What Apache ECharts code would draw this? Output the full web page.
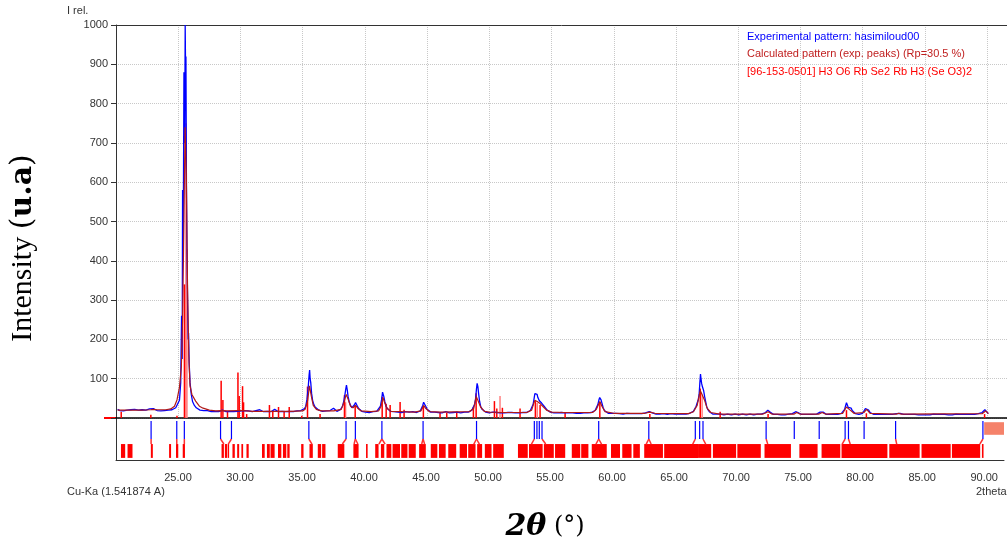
<!DOCTYPE html>
<html>
<head>
    <meta charset="utf-8">
    <title>XRD hasimiloud00</title>
    <script src="https://cdn.jsdelivr.net/npm/echarts@6/dist/echarts.min.js"></script>
    <style>
        html, body { margin: 0; padding: 0; background: #fff; }
        #main { width: 1007px; height: 549px; }
    </style>
</head>
<body>
<div id="main"></div>
<script>
    // experimental pattern [2theta, I rel.]
    var expPattern = [
        [20.13,22],[20.3,19],[20.45,21],[20.6,18],[20.75,22],[20.9,20],[21.05,17],[21.2,21],[21.35,19],[21.5,22],[21.65,18],[21.8,20],
        [21.95,19],[22.1,21],[22.25,18],[22.4,20],[22.55,21],[22.7,23],[22.85,26],[23.0,24],[23.15,21],[23.3,19],[23.45,21],[23.6,18],
        [23.75,20],[23.9,19],[24.05,21],[24.2,20],[24.35,22],[24.5,21],[24.65,24],[24.8,26],[24.95,30],[25.1,45],[25.2,90],[25.27,260],
        [25.32,150],[25.35,580],[25.4,420],[25.46,880],[25.52,700],[25.56,1000],[25.6,850],[25.62,920],[25.66,600],[25.7,440],[25.75,300],
        [25.8,200],[25.83,216],[25.88,140],[25.95,90],[26.05,60],[26.15,42],[26.3,32],[26.45,26],[26.6,22],[26.75,20],[26.9,18],[27.05,19],
        [27.2,17],[27.35,19],[27.5,18],[27.65,16],[27.8,18],[27.95,17],[28.1,19],[28.25,16],[28.4,18],[28.55,20],[28.7,17],[28.85,16],
        [29.0,18],[29.15,17],[29.3,19],[29.45,16],[29.6,18],[29.75,17],[29.9,16],[30.05,18],[30.2,17],[30.35,19],[30.5,16],[30.65,18],
        [30.8,17],[30.95,16],[31.1,18],[31.25,19],[31.4,17],[31.55,21],[31.7,17],[31.85,16],[32.0,18],[32.15,17],[32.3,19],[32.45,16],
        [32.6,18],[32.75,22],[32.9,17],[33.05,16],[33.2,18],[33.35,17],[33.5,19],[33.65,16],[33.8,18],[33.95,17],[34.1,18],[34.25,16],
        [34.4,17],[34.55,18],[34.7,17],[34.85,19],[35.0,20],[35.15,24],[35.25,30],[35.35,48],[35.45,80],[35.52,110],[35.56,122],[35.6,100],
        [35.65,90],[35.72,62],[35.8,45],[35.9,34],[36.0,28],[36.15,23],[36.3,20],[36.45,18],[36.6,17],[36.75,16],[36.9,18],[37.05,17],
        [37.2,19],[37.35,22],[37.48,25],[37.6,20],[37.75,17],[37.9,18],[38.05,22],[38.2,30],[38.3,42],[38.4,60],[38.47,75],[38.52,84],
        [38.58,72],[38.65,55],[38.75,40],[38.85,32],[38.95,26],[39.05,28],[39.15,33],[39.25,39],[39.32,36],[39.4,30],[39.5,24],[39.6,20],
        [39.75,17],[39.9,16],[40.05,15],[40.2,16],[40.35,14],[40.5,15],[40.65,16],[40.8,15],[40.95,17],[41.1,20],[41.25,30],[41.35,48],
        [41.42,66],[41.46,70],[41.52,55],[41.6,42],[41.7,30],[41.8,24],[41.9,20],[42.05,17],[42.2,15],[42.35,16],[42.5,14],[42.65,15],
        [42.8,16],[42.95,14],[43.1,15],[43.25,16],[43.4,14],[43.55,15],[43.7,14],[43.85,16],[44.0,15],[44.15,14],[44.3,16],[44.45,18],
        [44.55,22],[44.65,32],[44.72,40],[44.78,43],[44.85,35],[44.92,28],[45.0,22],[45.15,17],[45.3,15],[45.45,14],[45.6,15],[45.75,13],
        [45.9,14],[46.05,15],[46.2,13],[46.35,14],[46.5,16],[46.65,14],[46.8,13],[46.95,15],[47.1,14],[47.25,13],[47.4,15],[47.55,14],
        [47.7,13],[47.85,14],[48.0,15],[48.15,14],[48.3,15],[48.45,17],[48.6,20],[48.72,25],[48.82,35],[48.9,50],[48.97,75],[49.02,88],
        [49.08,80],[49.14,62],[49.22,42],[49.3,30],[49.42,22],[49.55,17],[49.7,15],[49.85,14],[50.0,13],[50.15,14],[50.3,15],[50.45,13],
        [50.6,14],[50.75,15],[50.9,13],[51.05,14],[51.2,13],[51.35,15],[51.5,14],[51.65,13],[51.8,14],[51.95,15],[52.1,13],[52.25,14],
        [52.4,13],[52.55,15],[52.7,14],[52.85,13],[53.0,14],[53.15,16],[53.3,19],[53.42,24],[53.52,35],[53.6,50],[53.66,62],[53.72,65],
        [53.78,58],[53.84,60],[53.9,52],[53.96,48],[54.02,44],[54.1,42],[54.2,38],[54.3,35],[54.4,30],[54.5,25],[54.62,21],[54.75,18],
        [54.9,15],[55.05,14],[55.2,13],[55.35,12],[55.5,13],[55.65,12],[55.8,14],[55.95,12],[56.1,13],[56.25,12],[56.4,13],[56.55,12],
        [56.7,13],[56.85,11],[57.0,12],[57.15,13],[57.3,12],[57.45,11],[57.6,13],[57.75,12],[57.9,13],[58.05,12],[58.2,14],[58.35,16],
        [58.5,19],[58.62,24],[58.72,34],[58.8,45],[58.87,52],[58.92,53],[58.98,46],[59.05,38],[59.15,26],[59.25,19],[59.4,14],[59.55,12],
        [59.7,11],[59.85,12],[60.0,11],[60.15,12],[60.3,10],[60.45,11],[60.6,12],[60.75,10],[60.9,11],[61.05,12],[61.2,10],[61.35,11],
        [61.5,12],[61.65,11],[61.8,10],[61.95,11],[62.1,12],[62.25,11],[62.4,12],[62.55,13],[62.7,14],[62.85,16],[62.95,15],[63.1,13],
        [63.25,11],[63.4,10],[63.55,11],[63.7,10],[63.85,9],[64.0,11],[64.15,10],[64.3,9],[64.45,10],[64.6,11],[64.75,9],[64.9,10],
        [65.05,11],[65.2,10],[65.35,9],[65.5,10],[65.65,11],[65.8,10],[65.95,11],[66.1,12],[66.25,14],[66.4,17],[66.52,22],[66.62,30],
        [66.7,38],[66.78,45],[66.86,60],[66.92,90],[66.97,112],[67.01,100],[67.06,88],[67.12,80],[67.16,84],[67.22,70],[67.3,55],[67.38,42],
        [67.46,30],[67.55,22],[67.68,16],[67.82,12],[67.95,10],[68.1,9],[68.25,10],[68.4,9],[68.55,10],[68.7,9],[68.85,8],[69.0,9],
        [69.15,10],[69.3,9],[69.45,8],[69.6,9],[69.75,10],[69.9,9],[70.05,8],[70.2,9],[70.35,10],[70.5,9],[70.65,8],[70.8,9],
        [70.95,10],[71.1,9],[71.25,8],[71.4,9],[71.55,10],[71.7,9],[71.85,10],[72.0,11],[72.15,13],[72.28,17],[72.38,20],[72.46,19],
        [72.56,15],[72.7,11],[72.85,9],[73.0,8],[73.15,9],[73.3,10],[73.45,8],[73.6,9],[73.75,8],[73.9,9],[74.05,10],[74.2,9],
        [74.35,11],[74.5,13],[74.62,16],[74.7,17],[74.8,14],[74.95,10],[75.1,9],[75.25,8],[75.4,9],[75.55,8],[75.7,9],[75.85,10],
        [76.0,9],[76.15,8],[76.3,10],[76.45,12],[76.58,15],[76.7,17],[76.82,15],[76.95,11],[77.1,9],[77.25,8],[77.4,9],[77.55,8],
        [77.7,9],[77.85,8],[78.0,9],[78.15,10],[78.3,12],[78.45,16],[78.55,22],[78.62,30],[78.7,39],[78.77,33],[78.84,27],[78.92,26],
        [79.0,24],[79.08,25],[79.16,19],[79.28,14],[79.42,11],[79.56,10],[79.7,9],[79.85,10],[80.0,12],[80.12,17],[80.22,24],[80.3,29],
        [80.38,26],[80.48,20],[80.6,14],[80.75,11],[80.9,9],[81.05,8],[81.2,9],[81.35,8],[81.5,9],[81.65,8],[81.8,9],[81.95,8],
        [82.1,9],[82.25,8],[82.4,9],[82.55,10],[82.7,11],[82.85,13],[83.0,12],[83.15,10],[83.3,9],[83.45,8],[83.6,9],[83.75,8],
        [83.9,9],[84.05,8],[84.2,9],[84.35,10],[84.5,8],[84.65,9],[84.8,8],[84.95,9],[85.1,8],[85.25,9],[85.4,8],[85.55,9],
        [85.7,10],[85.85,8],[86.0,9],[86.15,8],[86.3,9],[86.45,8],[86.6,9],[86.75,10],[86.9,8],[87.05,9],[87.2,8],[87.35,9],
        [87.5,10],[87.65,8],[87.8,9],[87.95,8],[88.1,9],[88.25,10],[88.4,9],[88.55,8],[88.7,9],[88.85,10],[89.0,9],[89.15,10],
        [89.3,11],[89.45,12],[89.6,14],[89.72,17],[89.82,21],[89.9,22],[89.98,18],[90.05,13],[90.1,11]
    ];

    // calculated pattern (exp. peaks)
    var calcPattern = [
        [20.13,20],[21,20],[22,20],[22.8,21],[23.0,22],[23.3,21],[24.0,21],[24.4,23],[24.7,30],[24.9,46],[25.1,78],[25.25,130],
        [25.35,250],[25.45,480],[25.55,740],[25.65,620],[25.75,330],[25.85,160],[25.95,82],[26.1,60],[26.4,43],[26.7,30],[27.0,25],
        [27.5,20],[28,18],[28.45,19],[28.6,20],[29,18],[29.8,19],[30.2,19],[31,17],[32,17],[33,17],[34,17],[35,18],[35.2,22],
        [35.4,45],[35.55,82],[35.7,55],[35.85,32],[36.1,22],[36.5,18],[37.5,18],[38.1,22],[38.3,38],[38.5,60],[38.65,48],[38.85,30],
        [39.05,26],[39.25,32],[39.45,24],[39.7,18],[40.5,16],[41.1,18],[41.3,30],[41.45,52],[41.6,38],[41.8,24],[42.1,17],[43,16],
        [44,15],[44.5,18],[44.72,32],[44.9,24],[45.2,16],[46,15],[48.4,16],[48.75,25],[48.95,55],[49.1,50],[49.3,28],[49.6,17],
        [50,15],[51,14],[53,14],[53.4,20],[53.65,45],[53.85,42],[54.1,36],[54.35,28],[54.6,20],[55,15],[56,14],[58.3,14],
        [58.6,22],[58.88,42],[59.05,30],[59.3,16],[60,12],[62.5,12],[62.9,15],[63.3,12],[66,11],[66.4,16],[66.7,32],[66.95,70],
        [67.1,68],[67.3,45],[67.5,25],[67.8,14],[68.5,10],[72,10],[72.4,16],[72.7,10],[74.5,10],[74.7,14],[74.95,10],[76.5,10],
        [76.75,14],[77,10],[78.4,12],[78.7,28],[79,20],[79.3,12],[80.1,14],[80.32,22],[80.6,12],[82.7,10],[82.9,12],[83.1,10],
        [89.6,11],[89.88,18],[90.1,11]
    ];

    // reference card [96-153-0501] sticks [2theta, I]
    var cardSticks = [
        [20.42,16],[22.8,8],[24.9,6],[25.5,340],[28.45,95],[28.59,46],[28.96,16],[29.8,116],[29.9,56],[30.17,81],[30.25,40],
        [30.5,10],[32.33,33],[32.6,16],[33.06,28],[33.51,16],[33.92,28],[34.93,6],[35.39,80],[36.4,10],[38.36,58],[39.22,33],
        [41.39,54],[41.71,36],[42.03,33],[42.83,41],[43.15,21],[44.7,31],[46.04,14],[46.58,13],[47.38,16],[48.72,28],[48.94,63],
        [50.41,43],[50.6,24],[51.05,26],[52.47,24],[53.7,43],[54.08,33],[56.09,14],[58.88,41],[62.9,10],[66.95,75],[68.55,16],
        [72.4,10],[78.7,20],[80.3,12],[89.8,10]
    ];
    var cardSticksFaint = [
        [25.62,750],[25.7,430],[50.86,56],[38.45,40],[53.85,38],[67.1,60]
    ];

    // lower strip: matched peak positions, links, card line bands
    var matchedPeaks = [22.83,24.90,25.51,28.43,29.31,35.55,38.55,39.30,41.44,44.76,49.07,53.73,53.94,54.13,54.35,
        58.92,62.96,66.71,67.06,67.33,72.42,74.69,76.70,78.79,79.06,80.32,82.86,89.90];
    var matchLinks = [
        [22.83,22.83],[24.90,24.90],[25.51,25.51],[28.43,28.7],[29.31,29.05],[35.55,35.8],[38.55,38.25],[39.30,39.2],[39.30,39.5],
        [41.44,41.2],[41.44,41.7],[44.76,44.65],[44.76,44.88],[49.07,48.85],[49.07,49.3],[53.73,53.5],[54.35,54.65],[58.92,58.7],
        [58.92,59.15],[62.96,62.75],[62.96,63.15],[66.71,66.5],[67.33,67.55],[72.42,72.55],[78.79,78.55],[79.06,79.2],[82.86,82.95],
        [89.90,89.65]
    ];
    var cardBands = [
        [20.4,20.74],[20.93,21.33],[22.81,22.97],[24.28,24.44],[24.84,25.02],[25.38,25.56],[28.51,28.7],[28.78,28.95],[29.0,29.12],
        [29.39,29.58],[29.77,29.93],[30.11,30.25],[30.52,30.7],[31.77,31.99],[32.17,32.4],[32.46,32.79],[33.06,33.33],[33.46,33.73],
        [33.81,34.0],[34.93,35.12],[35.6,35.87],[36.27,36.54],[36.62,36.89],[37.88,38.41],[39.14,39.56],[40.16,40.29],[40.9,41.17],
        [41.36,41.63],[41.81,42.2],[42.3,42.9],[43.0,43.5],[43.6,44.17],[44.44,44.98],[45.38,45.91],[46.04,46.58],[46.79,47.43],
        [47.71,48.3],[48.4,48.99],[49.12,49.52],[49.74,50.28],[50.41,51.27],[52.41,53.2],[53.3,54.4],[54.5,55.3],[55.4,56.22],
        [56.75,57.43],[57.51,58.09],[58.36,59.57],[59.91,60.64],[60.82,61.57],[61.71,62.24],[62.59,64.1],[64.2,66.93],[66.93,67.99],
        [68.13,70.0],[70.1,71.99],[72.29,74.42],[75.1,76.57],[76.89,78.4],[78.5,82.2],[82.35,84.8],[84.95,87.3],[87.4,89.68],
        [89.82,89.95]
    ];
    var excludedRange = [[90.0,91.6]];

    var NAME_EXP = 'Experimental pattern: hasimiloud00';
    var NAME_CALC = 'Calculated pattern (exp. peaks) (Rp=30.5 %)';
    var NAME_CARD = '[96-153-0501] H3 O6 Rb Se2 Rb H3 (Se O3)2';
    var FONT = '"Liberation Sans", Arial, sans-serif';
    var FRAME = {show: true, lineStyle: {color: '#333', width: 1}};

    function stickRender(color) {
        return function (params, api) {
            var top = api.coord([api.value(0), api.value(1)]);
            var base = api.coord([api.value(0), 0]);
            return {type: 'line', shape: {x1: top[0], y1: top[1], x2: base[0], y2: base[1]},
                style: {stroke: color, lineWidth: 1.5}};
        };
    }

    var myChart = echarts.init(document.getElementById('main'));
    myChart.setOption({
        animation: false,
        legend: {
            orient: 'vertical', left: 737, top: 26, itemWidth: 0, itemHeight: 11, itemGap: 6.5,
            selectedMode: false, icon: 'rect', itemStyle: {opacity: 0},
            textStyle: {fontSize: 11, fontFamily: FONT},
            data: [
                {name: NAME_EXP, textStyle: {color: '#0000ff'}},
                {name: NAME_CALC, textStyle: {color: '#c02020'}},
                {name: NAME_CARD, textStyle: {color: '#ff0000'}}
            ]
        },
        grid: [
            {left: 116, top: 25, right: -1, height: 393},
            {left: 116, top: 418, right: -1, height: 42}
        ],
        xAxis: [
            {type: 'value', gridIndex: 0, min: 20, max: 91.6, interval: 5,
                axisLine: {show: true, lineStyle: {color: '#000', width: 1.5}},
                axisTick: {show: false}, axisLabel: {show: false},
                splitLine: {show: true, lineStyle: {color: '#c8c8c8', type: 'dotted'}}},
            {type: 'value', gridIndex: 1, min: 20, max: 91.6, interval: 5,
                axisLine: FRAME, axisTick: {show: false}, splitLine: {show: false},
                axisLabel: {margin: 12, fontSize: 11, color: '#333', fontFamily: FONT,
                    formatter: function (v) { return v < 25 || v > 90 ? '' : v.toFixed(2); }}},
            {type: 'value', gridIndex: 0, position: 'top', min: 20, max: 91.6,
                axisLine: FRAME, axisTick: {show: false}, axisLabel: {show: false}, splitLine: {show: false}}
        ],
        yAxis: [
            {type: 'value', gridIndex: 0, min: 0, max: 1000, interval: 100,
                axisLine: FRAME,
                axisTick: {show: true, length: 5, lineStyle: {color: '#333'}},
                axisLabel: {margin: 8, fontSize: 11, color: '#333', fontFamily: FONT,
                    formatter: function (v) { return v === 0 ? '' : v; }},
                splitLine: {show: true, lineStyle: {color: '#c8c8c8', type: 'dotted'}}},
            {type: 'value', gridIndex: 1, min: 0, max: 1,
                axisLine: FRAME, axisTick: {show: false}, axisLabel: {show: false}, splitLine: {show: false}}
        ],
        graphic: [
            {type: 'text', left: 67, top: 5, style: {text: 'I rel.', font: '11px ' + FONT, fill: '#333'}},
            {type: 'text', left: 67, top: 486, style: {text: 'Cu-Ka (1.541874 A)', font: '11px ' + FONT, fill: '#333'}},
            {type: 'text', left: 976, top: 486, style: {text: '2theta', font: '11px ' + FONT, fill: '#333'}},
            {type: 'line', shape: {x1: 104, y1: 418, x2: 116, y2: 418}, style: {stroke: '#ff0000', lineWidth: 2}},
            {type: 'text', x: 23, y: 248, rotation: Math.PI / 2,
                style: {text: '{a|Intensity }{b|(}{c|u.a}{b|)}', align: 'center', verticalAlign: 'middle',
                    textAlign: 'center', textVerticalAlign: 'middle',
                    rich: {a: {font: '30px "Liberation Serif", serif', fill: '#000'},
                        b: {font: '30px "DejaVu Serif", serif', fill: '#000'},
                        c: {font: 'bold 30px "DejaVu Serif", serif', fill: '#000'}}}},
            {type: 'text', x: 545, y: 527,
                style: {text: '{a|2θ}{b| (°)}', align: 'center', verticalAlign: 'middle',
                    textAlign: 'center', textVerticalAlign: 'middle',
                    rich: {a: {font: 'italic bold 30px "DejaVu Serif", serif', fill: '#000'},
                        b: {font: '24px "DejaVu Serif", serif', fill: '#000'}}}}
        ],
        series: [
            {name: NAME_CARD + ' faint', type: 'custom', xAxisIndex: 0, yAxisIndex: 0,
                renderItem: stickRender('#ff8080'), data: cardSticksFaint, clip: true},
            {name: NAME_CARD, type: 'custom', xAxisIndex: 0, yAxisIndex: 0, itemStyle: {color: '#ff0000'},
                renderItem: stickRender('#ff0000'), data: cardSticks, clip: true},
            {name: NAME_EXP, type: 'line', xAxisIndex: 0, yAxisIndex: 0, showSymbol: false, symbol: 'none',
                itemStyle: {color: '#0000ff'}, lineStyle: {color: '#0000ff', width: 1.3}, data: expPattern, clip: true},
            {name: NAME_CALC, type: 'line', xAxisIndex: 0, yAxisIndex: 0, showSymbol: false, symbol: 'none',
                itemStyle: {color: '#c02020'}, lineStyle: {color: '#b01818', width: 1.2}, data: calcPattern},
            {type: 'custom', xAxisIndex: 1, yAxisIndex: 1, data: cardBands.map(function (b) { return [b[0], b[1]]; }),
                encode: {x: [0, 1]},
                renderItem: function (params, api) {
                    var p0 = api.coord([api.value(0), 0.38]);
                    var p1 = api.coord([api.value(1), 0.05]);
                    return {type: 'rect', shape: {x: p0[0], y: p0[1], width: Math.max(p1[0] - p0[0], 1), height: p1[1] - p0[1]},
                        style: {fill: '#ff0000'}};
                }},
            {type: 'custom', xAxisIndex: 1, yAxisIndex: 1, data: excludedRange,
                encode: {x: [0, 1]},
                renderItem: function (params, api) {
                    var p0 = api.coord([api.value(0), 0.9]);
                    var p1 = api.coord([api.value(1), 0.6]);
                    return {type: 'rect', shape: {x: p0[0], y: p0[1], width: p1[0] - p0[0], height: p1[1] - p0[1]},
                        style: {fill: '#f5826a'}};
                }},
            {type: 'custom', xAxisIndex: 1, yAxisIndex: 1, data: matchLinks,
                encode: {x: [0, 1]},
                renderItem: function (params, api) {
                    var a = api.coord([api.value(0), 0.5]);
                    var b = api.coord([api.value(1), 0.38]);
                    return {type: 'line', shape: {x1: a[0], y1: a[1], x2: b[0], y2: b[1]},
                        style: {stroke: '#ff3030', lineWidth: 1.5}};
                }},
            {type: 'custom', xAxisIndex: 1, yAxisIndex: 1, data: matchedPeaks.map(function (x) { return [x]; }),
                encode: {x: 0},
                renderItem: function (params, api) {
                    var a = api.coord([api.value(0), 0.93]);
                    var b = api.coord([api.value(0), 0.5]);
                    return {type: 'line', shape: {x1: a[0], y1: a[1], x2: b[0], y2: b[1]},
                        style: {stroke: '#0000ff', lineWidth: 1.2}};
                }}
        ]
    });
</script>
</body>
</html>
